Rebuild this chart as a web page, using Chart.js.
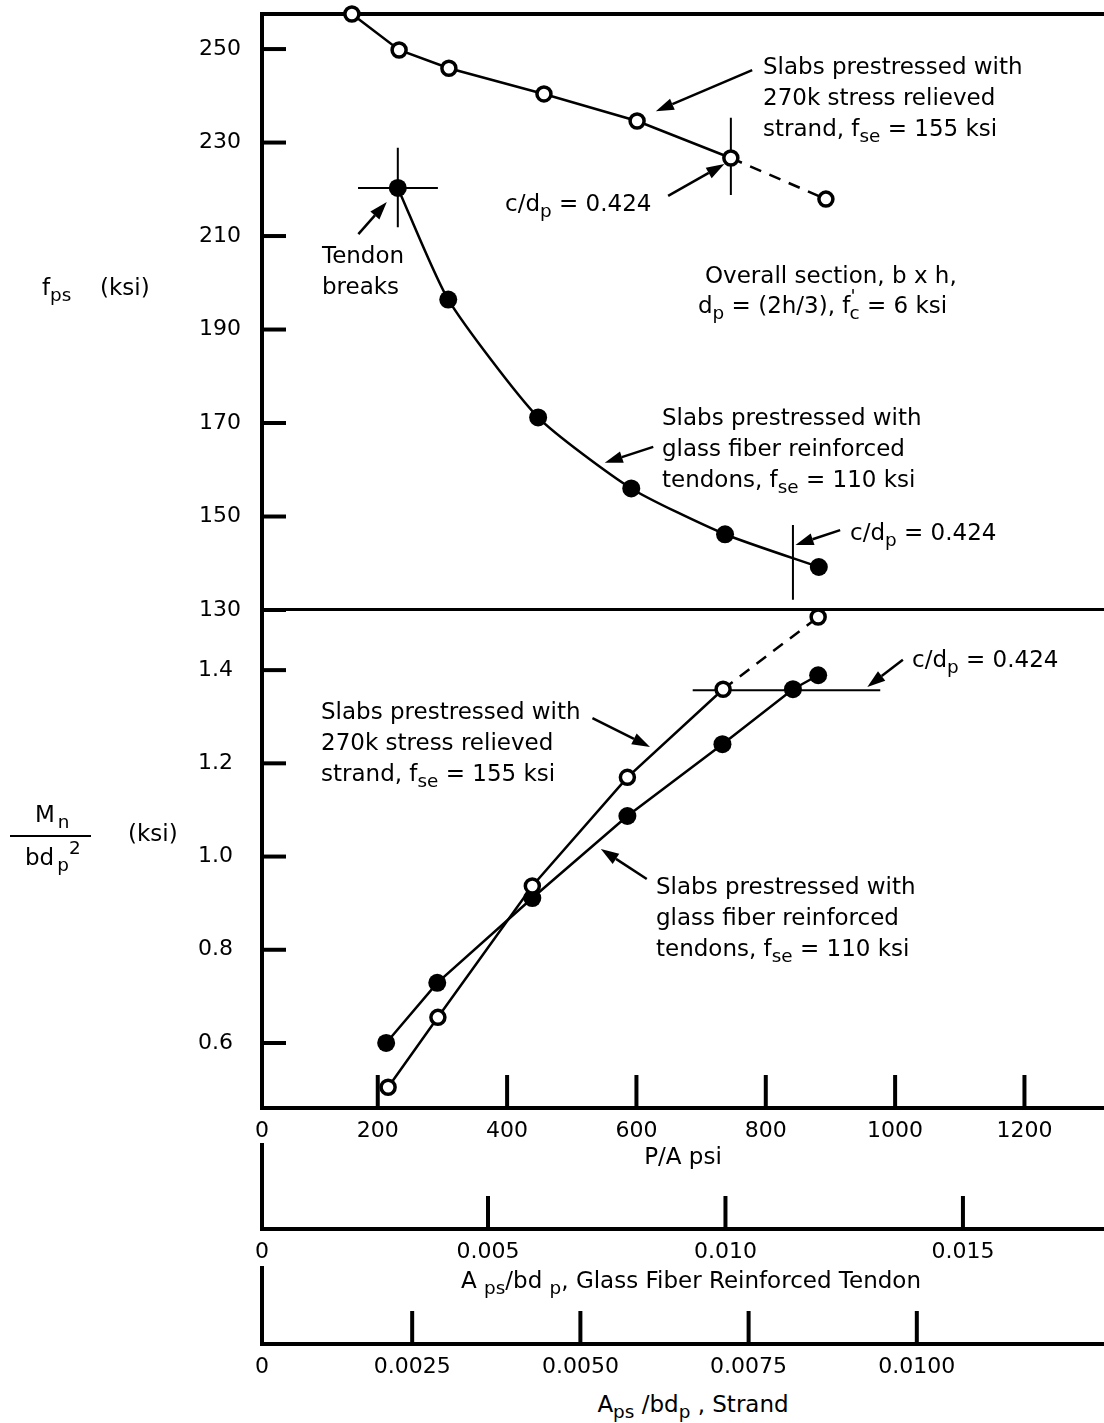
<!DOCTYPE html>
<html>
<head>
<meta charset="utf-8">
<script src="https://cdn.jsdelivr.net/npm/chart.js@4.4.1/dist/chart.umd.min.js"></script>
<style>
  html, body { margin: 0; padding: 0; background: #fff; }
  #wrap { position: relative; width: 1104px; height: 1423px; overflow: hidden; font-family: "DejaVu Sans", sans-serif; color: #000; }
  canvas { position: absolute; left: 0; }
  .lbl { position: absolute; font-size: 23px; line-height: 31px; white-space: nowrap; }
  .ttl { position: absolute; font-size: 23px; line-height: 28px; white-space: nowrap; transform: translateX(-50%); }
  sub { font-size: 0.8em; vertical-align: -0.3em; line-height: 0; }
  sup { font-size: 0.8em; vertical-align: 0.6em; line-height: 0; }
</style>
</head>
<body>
<div id="wrap">
  <canvas id="main" width="1104" height="1178" style="top:0"></canvas>
  <canvas id="axGlass" width="1104" height="130" style="top:1135px"></canvas>
  <canvas id="axStrand" width="1104" height="122" style="top:1258px"></canvas>

  <!-- axis titles -->
  <div class="lbl" style="left:42px; top:272px">f<sub>ps</sub></div>
  <div class="lbl" style="left:100px; top:272px">(ksi)</div>
  <div class="lbl" style="left:35px; top:799px">M<sub style="margin-left:3px">n</sub></div>
  <div style="position:absolute; left:10px; top:835px; width:81px; height:2px; background:#000"></div>
  <div class="lbl" style="left:25px; top:842px">bd<sub style="margin-left:3px">p</sub><sup>2</sup></div>
  <div class="lbl" style="left:128px; top:818px">(ksi)</div>
  <div class="ttl" style="left:691px; top:1266px">A <sub>ps</sub>/bd <sub>p</sub>, Glass Fiber Reinforced Tendon</div>
  <div class="ttl" style="left:693px; top:1390px">A<sub>ps</sub> /bd<sub>p</sub> , Strand</div>

  <!-- upper panel notes -->
  <div class="lbl" style="left:763px; top:51px">Slabs prestressed with<br>270k stress relieved<br>strand, f<sub>se</sub> = 155 ksi</div>
  <div class="lbl" style="left:505px; top:188px">c/d<sub>p</sub> = 0.424</div>
  <div class="lbl" style="left:322px; top:240px">Tendon<br>breaks</div>
  <div class="lbl" style="left:705px; top:260px">Overall section, b x h,</div>
  <div class="lbl" style="left:698px; top:290px">d<sub>p</sub> = (2h/3), f<sup style="margin-right:-6px">'</sup><sub>c</sub> = 6 ksi</div>
  <div class="lbl" style="left:662px; top:402px">Slabs prestressed with<br>glass fiber reinforced<br>tendons, f<sub>se</sub> = 110 ksi</div>
  <div class="lbl" style="left:850px; top:517px">c/d<sub>p</sub> = 0.424</div>

  <!-- lower panel notes -->
  <div class="lbl" style="left:912px; top:644px">c/d<sub>p</sub> = 0.424</div>
  <div class="lbl" style="left:321px; top:696px">Slabs prestressed with<br>270k stress relieved<br>strand, f<sub>se</sub> = 155 ksi</div>
  <div class="lbl" style="left:656px; top:871px">Slabs prestressed with<br>glass fiber reinforced<br>tendons, f<sub>se</sub> = 110 ksi</div>
</div>

<script>
// tick values / labels
const paTicks = [0, 200, 400, 600, 800, 1000, 1200];
const paTickLabels = ["0", "200", "400", "600", "800", "1000", "1200"];
const fpsTicks = [130, 150, 170, 190, 210, 230, 250];
const mnTicks = [0.6, 0.8, 1.0, 1.2, 1.4];
const glassRatioTicks = [0, 0.005, 0.010, 0.015];
const glassRatioLabels = ["0", "0.005", "0.010", "0.015"];
const strandRatioTicks = [0, 0.0025, 0.0050, 0.0075, 0.0100];
const strandRatioLabels = ["0", "0.0025", "0.0050", "0.0075", "0.0100"];

// f_ps vs P/A
const strandFpsX = [160, 233, 310, 457, 601, 746, 893];
const strandFpsY = [257.5, 249.8, 245.9, 240.4, 234.6, 226.7, 217.9];
const glassFpsX = [231, 309, 448, 592, 737, 882];
const glassFpsY = [220.3, 196.4, 171.2, 156.0, 146.2, 139.2];

// Mn/bdp^2 vs P/A
const strandMnX = [216, 293, 439, 586, 734, 881];
const strandMnY = [0.505, 0.655, 0.937, 1.170, 1.359, 1.514];
const glassMnX = [213, 292, 439, 586, 733, 842, 881];
const glassMnY = [0.600, 0.729, 0.911, 1.087, 1.241, 1.359, 1.389];

// c/dp = 0.424 marks and tendon break cross (P/A, value)
const markLines = [
  { axis: "yTop", x: [169.5, 293], y: [220.3, 220.3] },
  { axis: "yTop", x: [231, 231], y: [228.9, 211.9] },
  { axis: "yTop", x: [746, 746], y: [235.3, 218.8] },
  { axis: "yTop", x: [842, 842], y: [148.2, 132.2] },
  { axis: "yBot", x: [687, 977], y: [1.357, 1.357] }
];

// note arrows, tail -> head
const noteArrows = [
  { axis: "yTop", from: [779, 245.5], to: [630, 236.7] },
  { axis: "yTop", from: [649, 218.6], to: [736, 225.4] },
  { axis: "yTop", from: [170, 210.4], to: [214, 217.3] },
  { axis: "yTop", from: [626, 164.9], to: [551, 161.5] },
  { axis: "yTop", from: [915, 147.1], to: [846, 143.9] },
  { axis: "yBot", from: [1012, 1.422], to: [957, 1.364] },
  { axis: "yBot", from: [532, 1.297], to: [621, 1.235] },
  { axis: "yBot", from: [616, 0.952], to: [545, 1.016] }
];

const tickFont = { family: "DejaVu Sans", size: 22 };

// tick marks drawn on the inside of the axes
const inwardTicks = {
  id: "inwardTicks",
  afterDraw(chart, args, opts) {
    const ctx = chart.ctx;
    ctx.save();
    ctx.strokeStyle = "#000";
    ctx.lineWidth = 4;
    (opts.marks || []).forEach(m => {
      const s = chart.scales[m.scale];
      s.ticks.forEach(t => {
        const p = s.getPixelForValue(t.value);
        ctx.beginPath();
        if (s.isHorizontal()) {
          ctx.moveTo(p, s.top);
          ctx.lineTo(p, s.top - m.len);
        } else {
          ctx.moveTo(s.right, p);
          ctx.lineTo(s.right + m.len, p);
        }
        ctx.stroke();
      });
    });
    ctx.restore();
  }
};

const arrows = {
  id: "arrows",
  afterDatasetsDraw(chart, args, opts) {
    const ctx = chart.ctx;
    const xs = chart.scales.x;
    ctx.save();
    ctx.strokeStyle = "#000";
    ctx.fillStyle = "#000";
    ctx.lineWidth = 2.5;
    (opts.list || []).forEach(a => {
      const ys = chart.scales[a.axis];
      const x0 = xs.getPixelForValue(a.from[0]), y0 = ys.getPixelForValue(a.from[1]);
      const x1 = xs.getPixelForValue(a.to[0]), y1 = ys.getPixelForValue(a.to[1]);
      const ang = Math.atan2(y1 - y0, x1 - x0);
      const hl = 18, hw = 6;
      const bx = x1 - hl * Math.cos(ang), by = y1 - hl * Math.sin(ang);
      ctx.beginPath();
      ctx.moveTo(x0, y0);
      ctx.lineTo(bx, by);
      ctx.stroke();
      ctx.beginPath();
      ctx.moveTo(x1, y1);
      ctx.lineTo(bx + hw * Math.sin(ang), by - hw * Math.cos(ang));
      ctx.lineTo(bx - hw * Math.sin(ang), by + hw * Math.cos(ang));
      ctx.closePath();
      ctx.fill();
    });
    ctx.restore();
  }
};

function pts(xs, ys) {
  return xs.map((x, i) => ({ x: x, y: ys[i] }));
}

function series(xs, ys, axis, open, dashLast, tension) {
  const n = xs.length;
  return {
    data: pts(xs, ys),
    yAxisID: axis,
    showLine: true,
    borderColor: "#000",
    borderWidth: 2.5,
    tension: tension || 0,
    pointRadius: open ? 7 : 9,
    pointBorderWidth: open ? 3.5 : 0,
    pointBorderColor: "#000",
    pointBackgroundColor: open ? "#fff" : "#000",
    clip: false,
    segment: {
      borderDash: c => (dashLast && c.p1DataIndex === n - 1 ? [12, 9] : undefined)
    }
  };
}

const datasets = [
  series(strandFpsX, strandFpsY, "yTop", true, true),
  series(glassFpsX, glassFpsY, "yTop", false, false, 0.2),
  series(strandMnX, strandMnY, "yBot", true, true),
  series(glassMnX, glassMnY, "yBot", false, false)
];
markLines.forEach(m => {
  datasets.push({
    data: pts(m.x, m.y),
    yAxisID: m.axis,
    showLine: true,
    borderColor: "#000",
    borderWidth: 2,
    pointRadius: 0,
    clip: false
  });
});

// y axes: fixed width, no label overflow padding
function fitLeft(s) {
  s.width = 262;
  s.paddingTop = 0;
  s.paddingBottom = 0;
}

new Chart(document.getElementById("main"), {
  type: "scatter",
  data: { datasets: datasets },
  options: {
    responsive: false,
    animation: false,
    layout: { padding: 0, autoPadding: false },
    plugins: {
      legend: { display: false },
      tooltip: { enabled: false },
      inwardTicks: { marks: [{ scale: "yTop", len: 24 }, { scale: "yBot", len: 24 }, { scale: "x", len: 33 }] },
      arrows: { list: noteArrows }
    },
    scales: {
      x: {
        type: "linear", position: "bottom", min: 21, max: 1323,
        grid: { display: false },
        border: { color: "#000", width: 4 },
        ticks: { font: tickFont, color: "#000", padding: 2, maxRotation: 0, autoSkip: false,
          callback: (v, i) => paTickLabels[i] },
        afterBuildTicks: s => { s.ticks = paTicks.map(v => ({ value: Math.max(v, s.min) })); },
        title: { display: true, text: "P/A psi", color: "#000",
          font: { family: "DejaVu Sans", size: 23 }, padding: { top: 0, bottom: 6 } },
        afterFit: s => { s.height = 70; }
      },
      xTop: {
        type: "linear", position: "top", min: 21, max: 1323,
        grid: { display: false },
        ticks: { display: false },
        border: { color: "#000", width: 4 },
        afterFit: s => { s.height = 14; }
      },
      yTop: {
        type: "linear", position: "left", stack: "v", stackWeight: 596, weight: 1,
        min: 130, max: 257.5,
        grid: { display: true, drawTicks: false, lineWidth: 3,
          color: c => (c.tick && c.tick.value === 130 ? "#000" : "rgba(0,0,0,0)") },
        border: { color: "#000", width: 4 },
        ticks: { font: tickFont, color: "#000", padding: 21, autoSkip: false },
        afterBuildTicks: s => { s.ticks = fpsTicks.map(v => ({ value: v })); },
        afterFit: fitLeft
      },
      yBot: {
        type: "linear", position: "left", stack: "v", stackWeight: 498, weight: 0,
        min: 0.4605, max: 1.529,
        grid: { display: false },
        border: { color: "#000", width: 4 },
        ticks: { font: tickFont, color: "#000", padding: 21, autoSkip: false,
          callback: v => v.toFixed(1) },
        afterBuildTicks: s => { s.ticks = mnTicks.map(v => ({ value: v })); },
        afterFit: fitLeft
      }
    }
  },
  plugins: [inwardTicks, arrows]
});

// the two extra ratio axes under the P/A axis
function ratioAxis(id, min, max, tickVals, tickLabels) {
  return new Chart(document.getElementById(id), {
    type: "scatter",
    data: { datasets: [{ data: [] }] },
    options: {
      responsive: false,
      animation: false,
      layout: { padding: { top: 10 }, autoPadding: false },
      plugins: {
        legend: { display: false },
        tooltip: { enabled: false },
        inwardTicks: { marks: [{ scale: "x", len: 33 }] }
      },
      scales: {
        x: {
          type: "linear", position: "bottom", min: min, max: max,
          grid: { display: false },
          border: { color: "#000", width: 4 },
          ticks: { font: tickFont, color: "#000", padding: 2, maxRotation: 0, autoSkip: false,
            callback: (v, i) => tickLabels[i] },
          afterBuildTicks: s => { s.ticks = tickVals.map(v => ({ value: Math.max(v, s.min) })); },
          afterFit: s => { s.height = 36; }
        },
        y: {
          type: "linear", position: "left", min: 0, max: 1,
          grid: { display: false },
          ticks: { display: false },
          border: { color: "#000", width: 4 },
          afterFit: fitLeft
        }
      }
    },
    plugins: [inwardTicks]
  });
}

ratioAxis("axGlass", 0.000242, 0.01797, glassRatioTicks, glassRatioLabels);
ratioAxis("axStrand", 0.000268, 0.012782, strandRatioTicks, strandRatioLabels);
</script>
</body>
</html>
